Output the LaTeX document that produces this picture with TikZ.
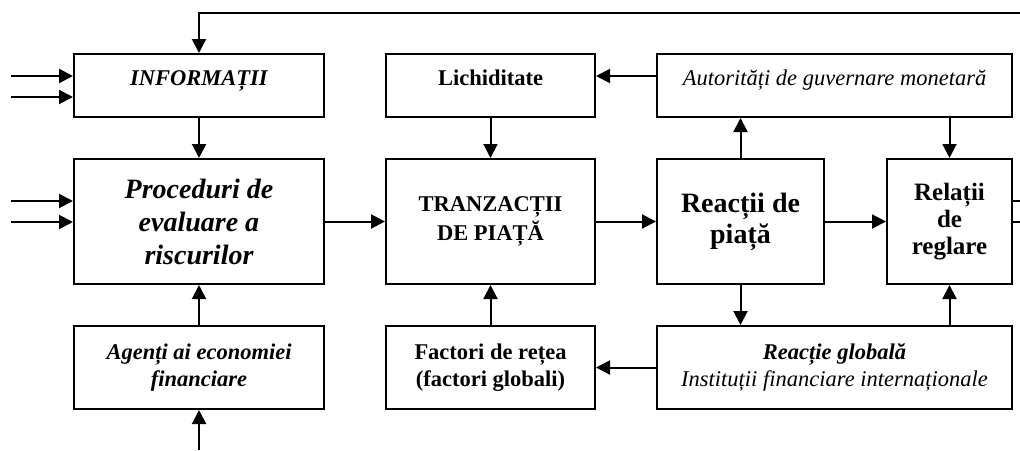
\documentclass[tikz,border=0pt]{standalone}
\usepackage{fontspec}
\setmainfont{Liberation Serif}
\usetikzlibrary{arrows.meta}

\begin{document}
\begin{tikzpicture}[x=1pt, y=-1pt, line width=2pt,
		box/.style={draw, rectangle, inner sep=0pt, align=center},
		oneline/.style={text height=15pt, text depth=15pt},
		boldit/.style={font=\fontsize{22.5}{27}\selectfont\bfseries\itshape},
		boldup/.style={font=\fontsize{22.5}{27}\selectfont\bfseries},
		italup/.style={font=\fontsize{22.5}{27}\selectfont\itshape},
		arr/.style={-{Triangle[length=14pt, width=14pt]}}]
	\useasboundingbox (0, 0) rectangle (1020, 450);
	% coloana 1
	\node[box, oneline, boldit, minimum width=250pt, minimum height=63pt] (info) at (199, 85.5) {INFORMAȚII};
	\node[box, minimum width=250pt, minimum height=125pt, font=\fontsize{28}{33}\selectfont\bfseries\itshape] (proc) at (199, 221.5) {Proceduri de\\evaluare a\\riscurilor};
	\node[box, boldit, minimum width=250pt, minimum height=83pt] (agent) at (199, 367.5) {Agenți ai economiei\\financiare};
	% coloana 2
	\node[box, oneline, boldup, minimum width=209pt, minimum height=63pt] (lichid) at (490.5, 85.5) {Lichiditate};
	\node[box, boldup, minimum width=209pt, minimum height=125pt] (tranz) at (490.5, 221.5) {TRANZACȚII\\[2pt]DE PIAȚĂ};
	\node[box, boldup, minimum width=209pt, minimum height=83pt] (factori) at (490.5, 367.5) {Factori de rețea\\(factori globali)};
	% coloana 3
	\node[box, oneline, italup, minimum width=355pt, minimum height=63pt] (autor) at (834.5, 85.5) {Autorități de guvernare monetară};
	\node[box, minimum width=167pt, minimum height=125pt, font=\fontsize{28}{31}\selectfont\bfseries] (reactii) at (740.5, 221.5) {Reacții de\\piață};
	\node[box, minimum width=125pt, minimum height=125pt, font=\fontsize{25}{27}\selectfont\bfseries] (relatii) at (949.5, 221.5) {Relații\\de\\reglare};
	\node[box, italup, minimum width=355pt, minimum height=83pt] (global) at (834.5, 367.5) {{\bfseries Reacție globală}\\Instituții financiare internaționale};
	% capete libere
	\coordinate (sus) at (1020, 13);
	\coordinate (jos) at (199, 450);
	\coordinate (in1) at (11, 76);
	\coordinate (in2) at (11, 97);
	\coordinate (in3) at (11, 201);
	\coordinate (in4) at (11, 222);
	\coordinate (out1) at (1020, 201);
	\coordinate (out2) at (1020, 222);
	% legaturi
	\draw[arr] (sus) -| (info.north);
	\draw[arr] (in1) -- (in1 -| info.west);
	\draw[arr] (in2) -- (in2 -| info.west);
	\draw[arr] (in3) -- (in3 -| proc.west);
	\draw[arr] (in4) -- (in4 -| proc.west);
	\draw[arr] (info) -- (proc);
	\draw[arr] (agent) -- (proc);
	\draw[arr] (jos) -- (agent.south);
	\draw[arr] (proc) -- (tranz);
	\draw[arr] (lichid) -- (tranz);
	\draw[arr] (factori) -- (tranz);
	\draw[arr] (tranz) -- (reactii);
	\draw[arr] (reactii) -- (reactii |- autor.south);
	\draw[arr] (reactii) -- (reactii |- global.north);
	\draw[arr] ([yshift=9.5pt]autor.west) -- ([yshift=9.5pt]lichid.east);
	\draw[arr] (global) -- (factori);
	\draw[arr] (reactii) -- (relatii);
	\draw[arr] (autor.south -| relatii) -- (relatii);
	\draw[arr] (global.north -| relatii) -- (relatii);
	\draw (out1 -| relatii.east) -- (out1);
	\draw (out2 -| relatii.east) -- (out2);
\end{tikzpicture}
\end{document}
